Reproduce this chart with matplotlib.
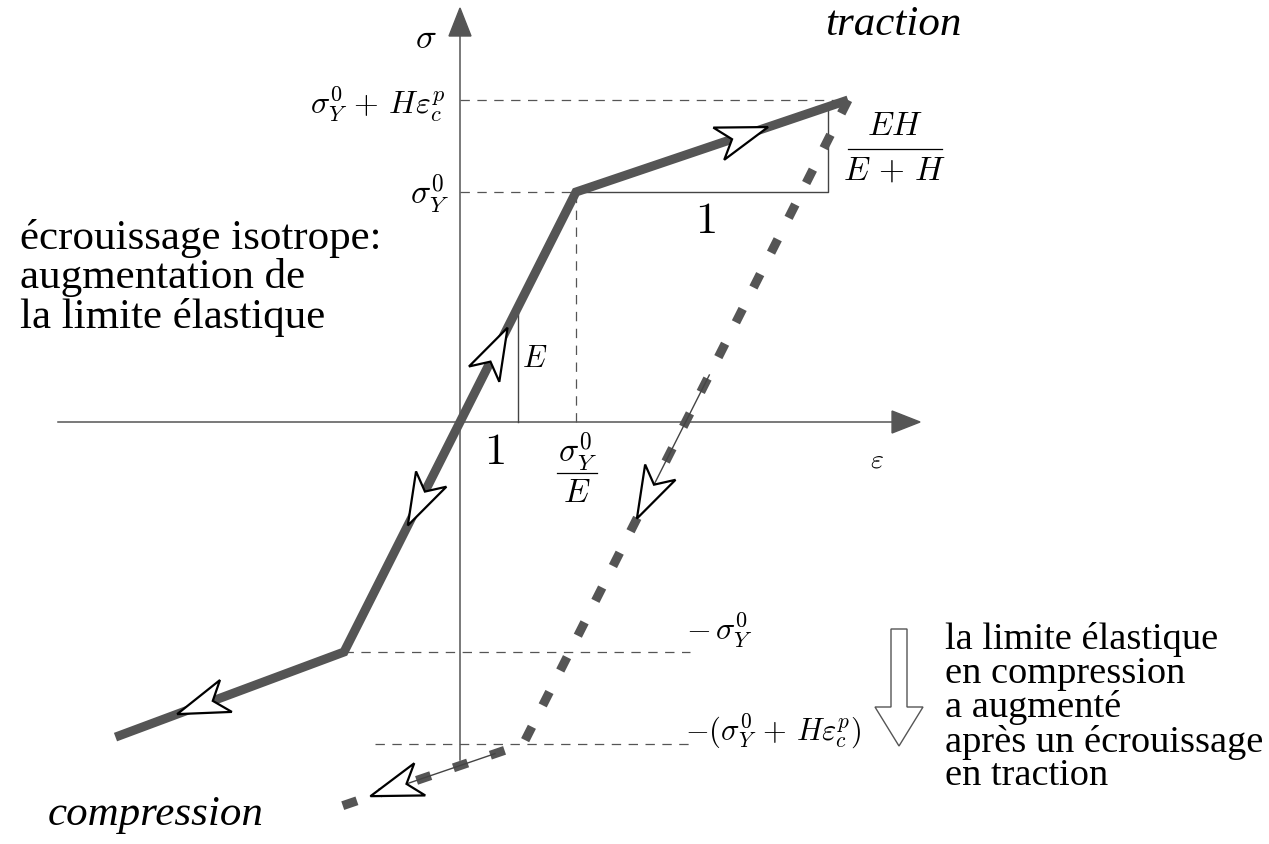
import numpy as np
import matplotlib.pyplot as plt
from matplotlib.patches import Polygon
from matplotlib.transforms import IdentityTransform

plt.rcParams['mathtext.fontset'] = 'cm'
plt.rcParams['font.family'] = ['Liberation Serif', 'DejaVu Serif']

W, H, DPI = 1269, 844, 100
X0, Y0 = 460, 422          # origin of the sigma-eps axes, in pixels
SX, SY = 116, 230          # pixels per unit of eps and of sigma

# strain in units of sigma_Y^0/E, stress in units of sigma_Y^0
eps_y, sig_y = 1.0, 1.0
eps_c, sig_c = 3.345, 1.40          # sigma_Y^0 + H eps_c^p
eps_tri = 3.172                     # vertical side of the EH/(E+H) triangle
eps_e = 0.5                         # vertical side of the E triangle

tension_eps = [0.0, eps_y, eps_c]
tension_sig = [0.0, sig_y, sig_c]
compression_eps = [0.0, -eps_y, -2.97]
compression_sig = [0.0, -sig_y, -1.37]
reload_eps = [eps_c, 0.545, -1.08]
reload_sig = [sig_c, -sig_c, -1.68]

# direction arrows: (segment, fraction along segment)
tension_arrows = [(0, 0.41), (1, 0.706)]
compression_arrows = [(0, 0.45), (1, 0.73)]
reload_arrows = [(0, 0.65), (1, 0.81)]
reload_shafts = [(0, 0.427), (1, 0.15)]

gray = '#555555'
dark = '#444444'

fig = plt.figure(figsize=(W / DPI, H / DPI), dpi=DPI)
ax = fig.add_axes([0, 0, 1, 1])
ax.set_xlim(-X0 / SX, (W - X0) / SX)
ax.set_ylim((Y0 - H) / SY, Y0 / SY)
ax.axis('off')


def fpos(x, y):
    # pixel position (top-left origin) -> figure fraction
    return x / W, 1 - y / H


def disp(x, y):
    return np.array([x, H - y], dtype=float)


def point(xs, ys, seg, t):
    return (xs[seg] + t * (xs[seg + 1] - xs[seg]),
            ys[seg] + t * (ys[seg + 1] - ys[seg]))


def open_head(xs, ys, seg, t):
    p0 = ax.transData.transform((xs[seg], ys[seg]))
    p1 = ax.transData.transform((xs[seg + 1], ys[seg + 1]))
    u = (p1 - p0) / np.hypot(*(p1 - p0))
    v = np.array([-u[1], u[0]])
    tip = p0 + t * (p1 - p0)
    pts = [tip, tip - 52 * u + 17 * v, tip - 38 * u, tip - 52 * u - 17 * v]
    ax.add_patch(Polygon(pts, closed=True, transform=IdentityTransform(),
                         fc='white', ec='black', lw=1.6, zorder=6,
                         joinstyle='miter'))


def solid_head(tip, direction, length=28, half=11):
    u = np.asarray(direction, dtype=float)
    v = np.array([-u[1], u[0]])
    pts = [tip, tip - length * u + half * v, tip - length * u - half * v]
    ax.add_patch(Polygon(pts, closed=True, transform=IdentityTransform(),
                         fc=gray, ec=gray, lw=1, zorder=4))


def fraction(xc, ybar, num, den, x0, x1, size=24, gap=22):
    # numerator, bar and denominator stacked around a bar at pixel row ybar
    fig.text(*fpos(xc, ybar - gap), num, fontsize=size, ha='center', va='center')
    fig.text(*fpos(xc, ybar + gap), den, fontsize=size, ha='center', va='center')
    ax.plot(*zip(disp(x0, ybar), disp(x1, ybar)), color='black', lw=0.9,
            transform=IdentityTransform())


# axes
ax.plot([-3.466, 3.75], [0, 0], color=gray, lw=1.1, zorder=2)
ax.plot([0, 0], [-1.47, 1.70], color=gray, lw=1.1, zorder=2)
solid_head(ax.transData.transform((3.966, 0)), (1, 0))
solid_head(ax.transData.transform((0, 1.80)), (0, 1))

# guide lines
guide = dict(color=gray, lw=0.9, ls=(0, (7.5, 6)), zorder=1)
ax.plot([0, eps_c], [sig_c, sig_c], **guide)
ax.plot([0, eps_y], [sig_y, sig_y], **guide)
ax.plot([eps_y, eps_y], [0, sig_y], **guide)
ax.plot([compression_eps[1], 1.98], [-sig_y, -sig_y], **guide)
ax.plot([-0.733, 1.98], [-sig_c, -sig_c], **guide)

# slope triangles
slope_h = (sig_c - sig_y) / (eps_c - eps_y)
ax.plot([eps_e, eps_e], [0, eps_e * sig_y / eps_y], color=dark, lw=1.0, zorder=2)
ax.plot([eps_y, eps_tri, eps_tri], [sig_y, sig_y, sig_y + slope_h * (eps_tri - eps_y)],
        color=dark, lw=1.0, zorder=2)

# loading paths
load_x = compression_eps[::-1] + tension_eps[1:]
load_y = compression_sig[::-1] + tension_sig[1:]
ax.plot(load_x, load_y, color=gray, lw=6.5, solid_joinstyle='miter',
        solid_capstyle='butt', zorder=3)
ax.plot(reload_eps, reload_sig, color=gray, lw=6.5, ls=(0, (1.66, 2.66)),
        dash_capstyle='butt', zorder=3)

for (seg, t0), (_, t1) in zip(reload_shafts, reload_arrows):
    a = point(reload_eps, reload_sig, seg, t0)
    b = point(reload_eps, reload_sig, seg, t1)
    ax.plot([a[0], b[0]], [a[1], b[1]], color=dark, lw=1.0, zorder=4)

for seg, t in tension_arrows:
    open_head(tension_eps, tension_sig, seg, t)
for seg, t in compression_arrows:
    open_head(compression_eps, compression_sig, seg, t)
for seg, t in reload_arrows:
    open_head(reload_eps, reload_sig, seg, t)

# hollow arrow next to the note
arrow_px = [(891, 629), (907, 629), (907, 707), (923, 707), (899, 746),
            (875, 707), (891, 707)]
ax.add_patch(Polygon([disp(*p) for p in arrow_px], closed=True,
                     transform=IdentityTransform(), fc='white', ec=gray,
                     lw=1.0, zorder=5))

# math labels
ms = 23
fig.text(*fpos(426, 40), r'$\sigma$', fontsize=25, ha='center', va='center')
fig.text(*fpos(445, 104), r'$\sigma_Y^0\,+\,H\varepsilon_c^p$', fontsize=ms,
         ha='right', va='center')
fig.text(*fpos(449, 194), r'$\sigma_Y^0$', fontsize=24, ha='right', va='center')
fig.text(*fpos(535, 360), r'$E$', fontsize=22, ha='center', va='center')
fig.text(*fpos(494, 453), r'$1$', fontsize=32, ha='center', va='center')
fig.text(*fpos(705, 222), r'$1$', fontsize=32, ha='center', va='center')
fraction(577, 473, r'$\sigma_Y^0$', r'$E$', 557, 597, gap=21)
fraction(895, 149, r'$EH$', r'$E\,+\,H$', 848, 942, gap=22)
fig.text(*fpos(877, 461), r'$\varepsilon$', fontsize=20, ha='center', va='center')
fig.text(*fpos(686, 630), r'$-\,\sigma_Y^0$', fontsize=ms, ha='left', va='center')
fig.text(*fpos(685, 731), r'$-(\sigma_Y^0\,+\,H\varepsilon_c^p)$', fontsize=22,
         ha='left', va='center')

# words
fig.text(*fpos(825, 35), 'traction', fontsize=31, style='italic', va='baseline')
fig.text(*fpos(48, 825), 'compression', fontsize=31, style='italic', va='baseline')

left_lines = ['écrouissage isotrope:', 'augmentation de', 'la limite élastique']
for line, y in zip(left_lines, [249, 288, 328]):
    fig.text(*fpos(20, y), line, fontsize=31, va='baseline')

right_lines = ['la limite élastique', 'en compression', 'a augmenté',
               'après un écrouissage', 'en traction']
for line, y in zip(right_lines, [649, 683, 717, 752, 785]):
    fig.text(*fpos(945, y), line, fontsize=27.6, va='baseline')

fig.savefig('out.png', dpi=DPI)
